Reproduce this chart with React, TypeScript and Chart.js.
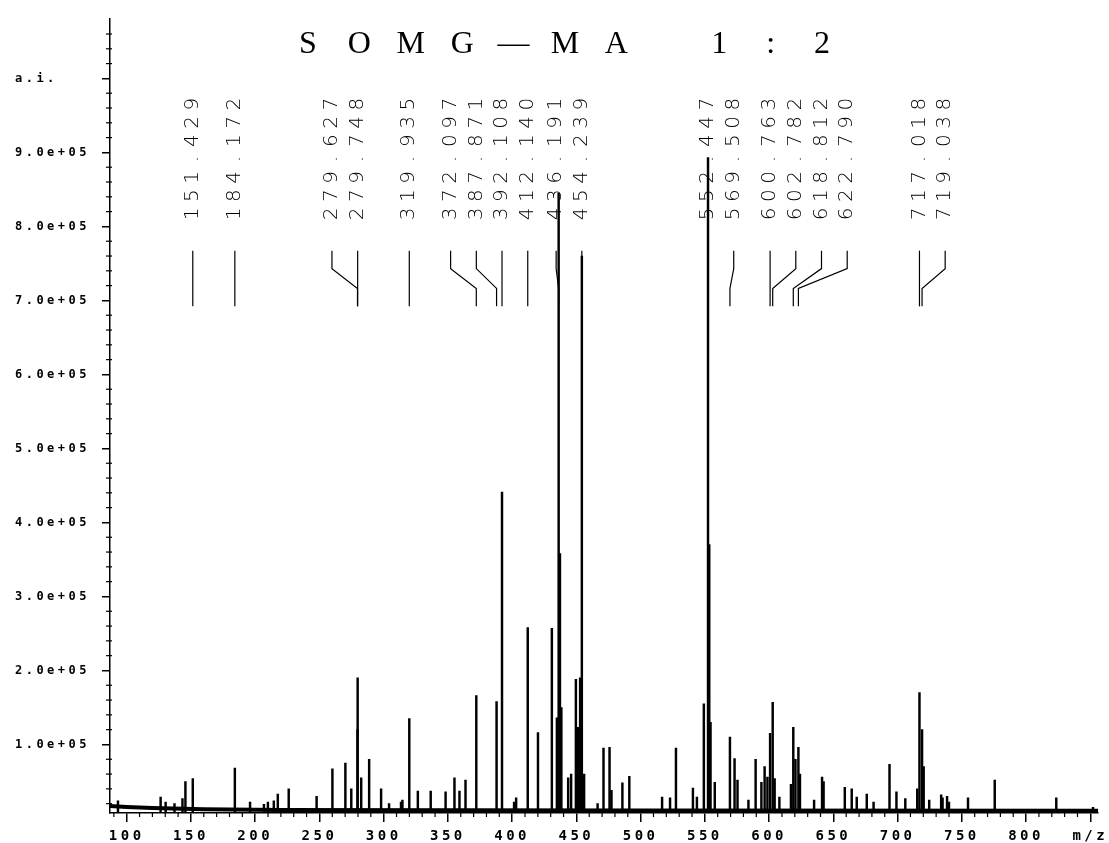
import React, { useEffect, useRef } from 'react';
import { Chart, registerables } from 'chart.js';

Chart.register(...registerables);

// ---------------- data ----------------
const TITLE = 'SOMG—MA 1:2';

const peakMz = [
  93.2, 126.4, 130.3, 137.2, 143.4, 145.7, 151.429, 184.172, 196.0, 206.8,
  209.9, 214.5, 217.6, 226.1, 247.8, 260.1, 270.2, 274.8, 279.627, 279.748,
  282.5, 288.7, 298.0, 304.2, 313.5, 314.6, 319.935, 326.6, 336.6, 348.2,
  355.1, 359.0, 363.7, 372.097, 387.871, 392.108, 401.5, 403.1, 412.14, 420.1,
  430.9, 434.8, 436.191, 437.2, 438.3, 443.6, 445.9, 449.6, 451.2, 452.9,
  454.239, 456.0, 466.5, 471.1, 475.8, 477.3, 485.8, 491.2, 516.7, 522.9,
  527.5, 540.7, 543.8, 549.2, 552.447, 553.4, 554.4, 557.7, 569.508, 573.1,
  575.4, 583.9, 589.5, 594.0, 596.5, 598.7, 600.763, 602.782, 604.3, 608.0,
  617.0, 618.812, 620.5, 622.79, 624.0, 635.0, 641.2, 642.4, 658.9, 664.3,
  668.2, 676.0, 681.3, 693.7, 699.1, 706.0, 715.3, 717.018, 719.038, 720.3,
  724.6, 733.9, 735.0, 738.5, 740.0, 754.8, 775.6, 823.5, 852.1,
];

const peakIntensity = [
  24000, 29000, 22000, 20000, 27000, 50000, 54000, 68000, 22000, 19000,
  22000, 24000, 33000, 40000, 30000, 67000, 75000, 40000, 120000, 190000,
  55000, 80000, 40000, 20000, 22000, 25000, 135000, 37000, 37000, 36000,
  55000, 37000, 52000, 166000, 158000, 441000, 22000, 28000, 258000, 116000,
  257000, 136000, 845000, 358000, 150000, 55000, 60000, 188000, 123000, 190000,
  760000, 60000, 20000, 95000, 96000, 38000, 48000, 57000, 29000, 28000,
  95000, 41000, 29000, 155000, 893000, 370000, 130000, 49000, 110000, 81000,
  52000, 25000, 80000, 49000, 70000, 56000, 115000, 157000, 54000, 29000,
  46000, 123000, 80000, 96000, 60000, 25000, 56000, 50000, 42000, 40000,
  29000, 33000, 22000, 73000, 36000, 27000, 40000, 170000, 120000, 70000,
  25000, 32000, 28000, 30000, 22000, 28000, 52000, 28000, 15000,
];

const baselineMz = [87, 100, 120, 160, 220, 500, 856];
const baselineLevel = [16800, 15500, 14000, 12500, 11400, 10800, 10400];

const labeledMz = [
  151.429, 184.172, 279.627, 279.748, 319.935, 372.097, 387.871, 392.108,
  412.14, 436.191, 454.239, 552.447, 569.508, 600.763, 602.782, 618.812,
  622.79, 717.018, 719.038,
];
const labelText = [
  '151.429', '184.172', '279.627', '279.748', '319.935', '372.097', '387.871', '392.108',
  '412.140', '436.191', '454.239', '552.447', '569.508', '600.763', '602.782', '618.812',
  '622.790', '717.018', '719.038',
];

const xTickValues = [100, 150, 200, 250, 300, 350, 400, 450, 500, 550, 600, 650, 700, 750, 800, 850];
const yTickValues = [100000, 200000, 300000, 400000, 500000, 600000, 700000, 800000, 900000, 1000000];

// ---------------- helpers ----------------
function yLabel(v: number): string {
  if (v === 1000000) return 'a.i.   ';
  const e = Math.floor(Math.log10(v) + 1e-9);
  const m = v / Math.pow(10, e);
  return m.toFixed(1) + 'e+' + String(e).padStart(2, '0');
}

const decorPlugin = {
  id: 'decor',
  beforeDraw(chart: any) {
    chart.ctx.letterSpacing = '3.5px';
  },
  afterDraw(chart: any) {
    const ctx = chart.ctx as CanvasRenderingContext2D;
    const xs = chart.scales.x;
    const ys = chart.scales.y;
    const area = chart.chartArea;
    ctx.save();
    (ctx as any).letterSpacing = '0px';
    ctx.fillStyle = '#000';
    ctx.strokeStyle = '#000';

    // minor ticks x
    ctx.lineWidth = 1.2;
    for (let v = 90; v <= 850; v += 10) {
      if (v % 50 === 0) continue;
      const px = xs.getPixelForValue(v);
      ctx.beginPath();
      ctx.moveTo(px, area.bottom);
      ctx.lineTo(px, area.bottom + 4);
      ctx.stroke();
    }
    // minor ticks y
    for (let v = 20000; v <= 1060000; v += 20000) {
      if (v % 100000 === 0) continue;
      const py = ys.getPixelForValue(v);
      ctx.beginPath();
      ctx.moveTo(area.left - 4, py);
      ctx.lineTo(area.left + 2, py);
      ctx.stroke();
    }

    // title
    ctx.font = '32px "Liberation Serif", "DejaVu Serif", serif';
    ctx.textAlign = 'center';
    ctx.textBaseline = 'alphabetic';
    const step = 51.4;
    const cx = 565;
    const n = TITLE.length;
    for (let i = 0; i < n; i++) {
      const ch = TITLE[i];
      if (ch === ' ') continue;
      ctx.fillText(ch, cx + (i - (n - 1) / 2) * step, 53);
    }

    // peak labels
    const gap = 25.7;
    const peakPx = labeledMz.map((m) => xs.getPixelForValue(m));
    const pos = peakPx.slice();
    const left: number[] = [];
    const right: number[] = [];
    labeledMz.forEach((m, i) => (m < 500 ? left : right).push(i));
    for (let k = left.length - 2; k >= 0; k--) {
      const i = left[k];
      const j = left[k + 1];
      pos[i] = Math.min(pos[i], pos[j] - gap);
    }
    for (let k = 1; k < right.length; k++) {
      const i = right[k];
      const j = right[k - 1];
      pos[i] = Math.max(pos[i], pos[j] + gap);
    }

    const yText = ys.getPixelForValue(816900);
    const charStep = 18.3;
    const yLeadTop = ys.getPixelForValue(767200);
    const yBend1 = ys.getPixelForValue(743000);
    const yBend2 = ys.getPixelForValue(716200);
    const yLeadBot = ys.getPixelForValue(692000);

    ctx.font = '200 20px "DejaVu Sans", sans-serif';
    ctx.textAlign = 'center';
    ctx.textBaseline = 'middle';
    ctx.lineWidth = 1.2;
    labelText.forEach((txt, i) => {
      const lx = pos[i];
      for (let c = 0; c < txt.length; c++) {
        ctx.save();
        ctx.translate(lx, yText - c * charStep);
        ctx.rotate(-Math.PI / 2);
        ctx.fillText(txt[c], 0, 0);
        ctx.restore();
      }
      const px = peakPx[i];
      ctx.beginPath();
      if (Math.abs(px - lx) < 0.5) {
        ctx.moveTo(lx, yLeadTop);
        ctx.lineTo(lx, yLeadBot);
      } else {
        ctx.moveTo(lx, yLeadTop);
        ctx.lineTo(lx, yBend1);
        ctx.lineTo(px, yBend2);
        ctx.lineTo(px, yLeadBot);
      }
      ctx.stroke();
    });

    ctx.restore();
  },
};

export default function App() {
  const ref = useRef<HTMLCanvasElement | null>(null);

  useEffect(() => {
    const canvas = ref.current;
    if (!canvas) return;
    const peaks = peakMz.map((x, i) => ({ x, y: peakIntensity[i] }));
    const base = baselineMz.map((x, i) => ({ x, y: baselineLevel[i] }));
    const monoFont = '"DejaVu Sans Mono", "Liberation Mono", monospace';

    const chart = new Chart(canvas, {
      type: 'bar',
      data: {
        datasets: [
          {
            type: 'line',
            label: 'baseline',
            data: base,
            borderColor: '#000',
            borderWidth: 4,
            pointRadius: 0,
            tension: 0,
            order: 0,
          } as any,
          {
            type: 'bar',
            label: 'intensity',
            data: peaks,
            backgroundColor: '#000',
            borderWidth: 0,
            barThickness: 1.8,
            order: 1,
          } as any,
        ],
      },
      options: {
        responsive: false,
        animation: false,
        events: [],
        layout: { padding: { left: 0, right: 4, top: 14, bottom: 0 } },
        plugins: {
          legend: { display: false },
          tooltip: { enabled: false },
          title: { display: false },
        },
        scales: {
          x: {
            type: 'linear',
            min: 87,
            max: 856,
            offset: false,
            afterFit(s: any) {
              s.height = 30;
            },
            afterBuildTicks(s: any) {
              s.ticks = xTickValues.map((v) => ({ value: v }));
            },
            grid: {
              drawOnChartArea: false,
              drawTicks: true,
              tickLength: 9,
              color: '#000',
              lineWidth: 1.5,
              offset: false,
            },
            border: { display: true, color: '#000', width: 1.5 },
            ticks: {
              autoSkip: false,
              maxRotation: 0,
              minRotation: 0,
              padding: 6,
              color: '#000',
              font: { family: monoFont, size: 14, weight: 'bold' },
              callback: (v: any) => (Number(v) === 850 ? 'm/z' : String(v)),
            },
          },
          y: {
            type: 'linear',
            min: 7400,
            max: 1080000,
            afterFit(s: any) {
              s.width = 110;
            },
            afterBuildTicks(s: any) {
              s.ticks = yTickValues.map((v) => ({ value: v }));
            },
            grid: {
              drawOnChartArea: false,
              drawTicks: true,
              tickLength: 8,
              color: '#000',
              lineWidth: 1.5,
            },
            border: { display: true, color: '#000', width: 1.5 },
            ticks: {
              padding: 12,
              color: '#000',
              font: { family: monoFont, size: 12, weight: 'bold' },
              callback: (v: any) => yLabel(Number(v)),
            },
          },
        } as any,
      },
      plugins: [decorPlugin],
    });

    return () => chart.destroy();
  }, []);

  return (
    <div style={{ position: 'fixed', left: 0, top: 0, width: 1109, height: 843, background: '#fff' }}>
      <canvas ref={ref} width={1109} height={843} style={{ display: 'block' }} />
    </div>
  );
}
